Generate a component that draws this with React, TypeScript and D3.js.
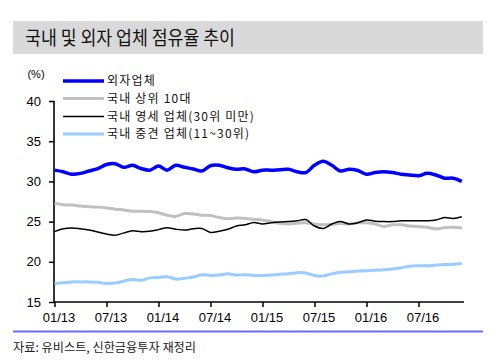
import { useRef, useEffect } from 'react'
import * as d3 from 'd3'

// monthly, 01/13 ~ 12/16
const months = d3.range(48)
const foreign = [31.4, 31.2, 30.9, 31.0, 31.3, 31.6, 32.1, 32.2, 31.75, 32.0, 31.6, 31.4,
  31.9, 31.4, 32.0, 31.75, 31.55, 31.3, 31.95, 32.0, 31.7, 31.5, 31.55, 31.2,
  31.4, 31.4, 31.45, 31.5, 31.2, 31.1, 32.0, 32.5, 32.0, 31.3, 31.5, 31.35,
  30.9, 31.1, 31.2, 31.1, 30.9, 30.8, 30.7, 31.0, 30.8, 30.4, 30.4, 30.0]
const top10 = [27.3, 27.1, 27.05, 26.95, 26.85, 26.8, 26.7, 26.55, 26.45, 26.3, 26.3, 26.25,
  26.1, 25.8, 25.65, 26.0, 25.95, 25.8, 25.75, 25.5, 25.35, 25.45, 25.4, 25.3,
  25.2, 25.0, 24.8, 24.7, 24.8, 24.85, 24.7, 24.6, 24.65, 24.75, 24.7, 24.85,
  24.85, 24.7, 24.4, 24.6, 24.6, 24.45, 24.4, 24.3, 24.1, 24.25, 24.3, 24.2]
const small = [23.75, 24.1, 24.2, 24.1, 23.95, 23.7, 23.45, 23.3, 23.6, 23.85, 23.75, 23.8,
  24.0, 24.25, 24.05, 23.95, 24.1, 24.15, 23.65, 23.8, 24.05, 24.45, 24.6, 24.9,
  24.7, 24.85, 24.95, 25.0, 25.1, 25.25, 24.45, 24.15, 24.7, 25.0, 24.7, 24.85,
  25.2, 25.05, 25.0, 25.0, 25.1, 25.1, 25.1, 25.1, 25.2, 25.5, 25.4, 25.6]
const mid = [17.3, 17.4, 17.5, 17.5, 17.5, 17.45, 17.3, 17.35, 17.6, 17.8, 17.7, 18.0,
  18.05, 18.15, 17.85, 17.95, 18.1, 18.4, 18.3, 18.35, 18.5, 18.35, 18.4, 18.3,
  18.3, 18.35, 18.45, 18.5, 18.65, 18.6, 18.3, 18.25, 18.5, 18.7, 18.75, 18.85,
  18.9, 18.95, 19.0, 19.1, 19.25, 19.45, 19.5, 19.5, 19.6, 19.65, 19.7, 19.8]

const seriesNames = ['외자업체', '국내 상위 10대', '국내 영세 업체(30위 미만)', '국내 중견 업체(11~30위)']
const yTicks = [15, 20, 25, 30, 35, 40]
const xTickMonths = [0, 6, 12, 18, 24, 30, 36, 42]
const xTickLabels = ['01/13', '07/13', '01/14', '07/14', '01/15', '07/15', '01/16', '07/16']

export default function App() {
  const svgRef = useRef<SVGSVGElement>(null)

  useEffect(() => {
    const svg = d3.select(svgRef.current)
    svg.selectAll('*').remove()

    const x = d3.scaleLinear().domain([0, 47]).range([54.5, 461.8])
    const y = d3.scaleLinear().domain([15, 40]).range([302, 101])

    // title bar
    svg.append('rect').attr('x', 13).attr('y', 21).attr('width', 470).attr('height', 33).attr('fill', '#d9d9d9')
    svg.append('text').attr('x', 25).attr('y', 45)
      .attr('font-family', 'Noto Sans CJK KR').attr('font-size', 19)
      .attr('textLength', 210).attr('lengthAdjust', 'spacingAndGlyphs')
      .attr('fill', '#111').text('국내 및 외자 업체 점유율 추이')

    // unit
    svg.append('text').attr('x', 36).attr('y', 78).attr('text-anchor', 'middle')
      .attr('font-family', 'Liberation Sans').attr('font-size', 11).text('(%)')

    // y axis
    const yAxis = d3.axisLeft(y).tickValues(yTicks).tickSize(5).tickPadding(8)
    const gy = svg.append('g').attr('transform', 'translate(54,0)').call(yAxis)
    gy.select('.domain').attr('d', `M0,${y(40)}V${y(15)}`).attr('stroke-width', 1.6)
    gy.selectAll('line').attr('stroke-width', 1.5)
    gy.selectAll('text').attr('font-family', 'Liberation Sans').attr('font-size', 13).attr('fill', '#000')

    // x axis
    const xAxis = d3.axisBottom(x).tickValues(xTickMonths).tickSize(5).tickFormat((d, i) => xTickLabels[i])
    const gx = svg.append('g').attr('transform', `translate(0,${y(15)})`).call(xAxis)
    gx.select('.domain').attr('d', 'M54,0H464').attr('stroke-width', 1.6)
    gx.selectAll('line').attr('stroke-width', 1.5)
    gx.selectAll('text').attr('font-family', 'Liberation Sans').attr('font-size', 13)
      .attr('fill', '#000').attr('dx', 4).attr('dy', '0.95em')

    const line = d3.line<number>()
      .x((d, i) => x(months[i]))
      .y(d => y(d))
      .curve(d3.curveCatmullRom.alpha(0.5))

    const series = [
      { data: mid, color: '#99ccff', width: 3 },
      { data: top10, color: '#c0c0c0', width: 3 },
      { data: small, color: '#000000', width: 1.5 },
      { data: foreign, color: '#0000ff', width: 3.5 },
    ]
    svg.selectAll('.series').data(series).join('path')
      .attr('class', 'series')
      .attr('d', d => line(d.data))
      .attr('fill', 'none')
      .attr('stroke', d => d.color)
      .attr('stroke-width', d => d.width)
      .attr('stroke-linejoin', 'round')

    // legend
    const legend = [
      { color: '#0000ff', width: 3.5, y: 81 },
      { color: '#c0c0c0', width: 3, y: 98.5 },
      { color: '#000000', width: 1.5, y: 116.5 },
      { color: '#99ccff', width: 3, y: 134 },
    ]
    const lg = svg.selectAll('.lg').data(legend).join('g').attr('class', 'lg')
    lg.append('line').attr('x1', 63).attr('x2', 104).attr('y1', d => d.y).attr('y2', d => d.y)
      .attr('stroke', d => d.color).attr('stroke-width', d => d.width)
    lg.append('text').attr('x', 107).attr('y', d => d.y).attr('dy', '0.36em')
      .attr('font-family', 'Noto Sans CJK KR').attr('font-size', 12).attr('fill', '#111')
      .attr('letter-spacing', 1.2)
      .text((d, i) => seriesNames[i])

    // footer
    svg.append('line').attr('x1', 13).attr('x2', 483).attr('y1', 331.5).attr('y2', 331.5)
      .attr('stroke', '#6b6bff').attr('stroke-width', 2)
    svg.append('text').attr('x', 13).attr('y', 352)
      .attr('font-family', 'Noto Sans CJK KR').attr('font-size', 12.5)
      .attr('textLength', 183).attr('lengthAdjust', 'spacingAndGlyphs')
      .attr('fill', '#222').text('자료: 유비스트, 신한금융투자 재정리')
  }, [])

  return (
    <svg ref={svgRef} width={500} height={361}
      style={{ position: 'absolute', left: 0, top: 0, background: '#fff' }} />
  )
}
